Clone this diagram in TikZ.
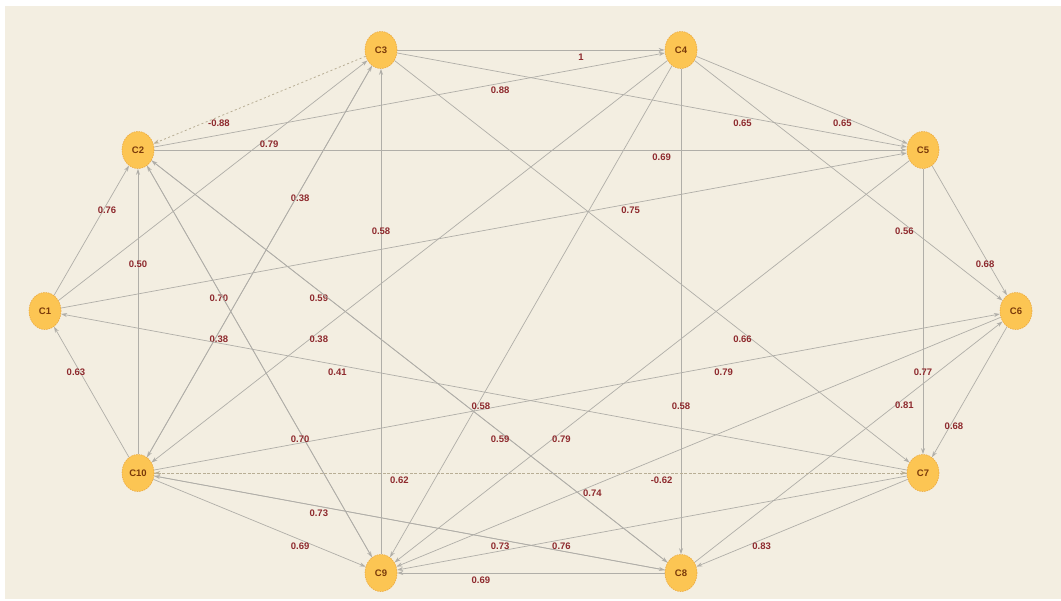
\documentclass[tikz,border=0pt]{standalone}
\usepackage{fontspec}
\setmainfont{Liberation Sans}
\usetikzlibrary{arrows.meta,calc,shapes.geometric}
\definecolor{bgc}{HTML}{F3EEE1}
\definecolor{nodefill}{HTML}{FCC553}
\definecolor{nodeline}{HTML}{EBA83C}
\definecolor{nodetext}{HTML}{7A3A0A}
\definecolor{edgec}{HTML}{B0AEA8}
\definecolor{dashc}{HTML}{B8AE95}
\definecolor{lblc}{HTML}{8E2A2E}
\pgfdeclarelayer{edgelayer}
\pgfsetlayers{edgelayer,main}
\tikzset{
  concept/.style={ellipse, minimum width=32pt, minimum height=37pt, inner sep=0pt,
    fill=nodefill, draw=nodeline, dash pattern=on 1.5pt off 1pt, line width=0.6pt,
    text=nodetext, font=\fontsize{9.5}{9.5}\selectfont\bfseries},
  edge/.style={draw=edgec, line width=0.7pt, -{Stealth[length=6pt,width=4pt]}},
  negedge/.style={draw=dashc, line width=0.8pt, dash pattern=on 2pt off 2.5pt, -{Stealth[length=6pt,width=4pt]}},
  lbl/.style={text=lblc, font=\fontsize{9.5}{9.5}\selectfont\bfseries, inner sep=0pt}
}
\begin{document}
\begin{tikzpicture}[x=1pt,y=-1pt]
\useasboundingbox (0,0) rectangle (1061,601);
% nodes
\node[concept] (C1) at (45,311) {C1};
\node[concept] (C2) at (138,150) {C2};
\node[concept] (C3) at (381,50) {C3};
\node[concept] (C4) at (681,50) {C4};
\node[concept] (C5) at (923,150) {C5};
\node[concept] (C6) at (1016,311) {C6};
\node[concept] (C7) at (923,473) {C7};
\node[concept] (C8) at (681,573) {C8};
\node[concept] (C9) at (381,573) {C9};
\node[concept] (C10) at (138,473) {C10};
\begin{pgfonlayer}{edgelayer}
\fill[white] (0,0) rectangle (1061,601);
\fill[bgc] (5,6) rectangle (1061,599);
% solid (positive) edges
\foreach \s/\t/\w in {
  C3/C4/1, C2/C4/0.88, C3/C5/0.65, C4/C5/0.65, C1/C3/0.79, C2/C5/0.69,
  C10/C3/0.38, C1/C2/0.76, C1/C5/0.75, C9/C3/0.58, C4/C6/0.56, C10/C2/0.50,
  C5/C6/0.68, C9/C2/0.70, C8/C2/0.59, C3/C10/0.38, C4/C10/0.38, C3/C7/0.66,
  C10/C1/0.63, C7/C1/0.41, C10/C6/0.79, C5/C7/0.77, C4/C9/0.58, C4/C8/0.58,
  C8/C6/0.81, C6/C7/0.68, C2/C8/0.59, C5/C9/0.79, C2/C9/0.70, C6/C9/0.74,
  C8/C10/0.73, C10/C9/0.69, C10/C8/0.73, C7/C9/0.76, C7/C8/0.83, C8/C9/0.69}
{
  \draw[edge] (\s) -- (\t);
  \node[lbl] at ($(\s)!0.667!(\t)+(0,7)$) {\w};
}
% dashed edges
\foreach \s/\t/\w in {C3/C2/-0.88, C7/C10/0.62, C10/C7/-0.62}
{
  \draw[negedge] (\s) -- (\t);
  \node[lbl] at ($(\s)!0.667!(\t)+(0,7)$) {\w};
}
\end{pgfonlayer}
\end{tikzpicture}
\end{document}
